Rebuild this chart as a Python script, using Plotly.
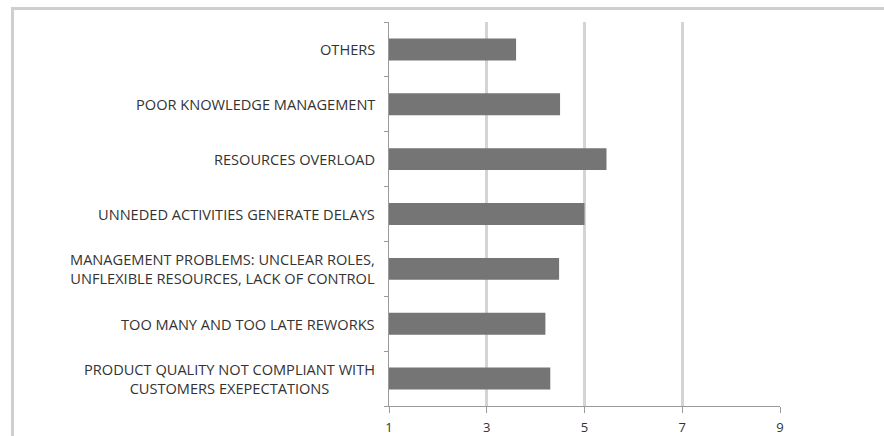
import plotly.graph_objects as go

categories = [
    "PRODUCT QUALITY NOT COMPLIANT WITH<br>CUSTOMERS EXEPECTATIONS",
    "TOO MANY AND TOO LATE REWORKS",
    "MANAGEMENT PROBLEMS: UNCLEAR ROLES,<br>UNFLEXIBLE RESOURCES, LACK OF CONTROL",
    "UNNEDED ACTIVITIES GENERATE DELAYS",
    "RESOURCES OVERLOAD",
    "POOR KNOWLEDGE MANAGEMENT",
    "OTHERS",
]
values = [4.3, 4.2, 4.48, 5.0, 5.45, 4.5, 3.6]
x_ticks = [1, 3, 5, 7, 9]

W, H = 884, 436
L, R, T, B = 389, 780, 22, 406

fig = go.Figure()
fig.add_trace(go.Bar(
    y=categories, x=values, orientation="h",
    marker=dict(color="#757575", line=dict(width=0)),
    width=0.4,
))

annotations = []
for c in categories:
    annotations.append(dict(
        x=0, xref="paper", y=c, yref="y", text=c, showarrow=False,
        xanchor="right", yanchor="middle", align="center", xshift=-12,
        font=dict(family="Open Sans", size=14.6, color="#333333"),
    ))

px2x = lambda p: (p - L) / (R - L)
px2y = lambda p: (B - p) / (B - T)

frame = dict(color="#cfcfcf", width=3)
fig.update_layout(
    width=W, height=H,
    margin=dict(l=L, r=W - R, t=T, b=H - B, pad=0, autoexpand=False),
    plot_bgcolor="white", paper_bgcolor="white",
    showlegend=False,
    bargap=0.6,
    annotations=annotations,
    shapes=[
        dict(type="line", xref="paper", yref="paper",
             x0=px2x(11), x1=px2x(900), y0=px2y(8.5), y1=px2y(8.5),
             line=frame, layer="below"),
        dict(type="line", xref="paper", yref="paper",
             x0=px2x(12.5), x1=px2x(12.5), y0=px2y(7), y1=px2y(450),
             line=frame, layer="below"),
    ],
    xaxis=dict(
        range=[1, 9], tickvals=x_ticks, ticktext=[str(v) for v in x_ticks],
        showgrid=True, gridcolor="#d4d4d4", gridwidth=2.5,
        zeroline=False, showline=True, linecolor="#9a9a9a", linewidth=1,
        ticks="outside", ticklen=6, tickcolor="#9a9a9a",
        tickfont=dict(family="Open Sans", size=13, color="#333333"),
        ticklabelstandoff=3, automargin=False, fixedrange=True,
    ),
    yaxis=dict(
        type="category", categoryorder="array", categoryarray=categories,
        range=[-0.5, 6.5], showticklabels=False, automargin=False,
        showgrid=False, zeroline=False, showline=True, linecolor="#9a9a9a", linewidth=1,
        ticks="outside", ticklen=4, tickcolor="#9a9a9a", tickson="boundaries",
        fixedrange=True,
    ),
)

fig.write_html("out.html", post_script="document.body.style.margin='0px';",
               config={"displayModeBar": False})
